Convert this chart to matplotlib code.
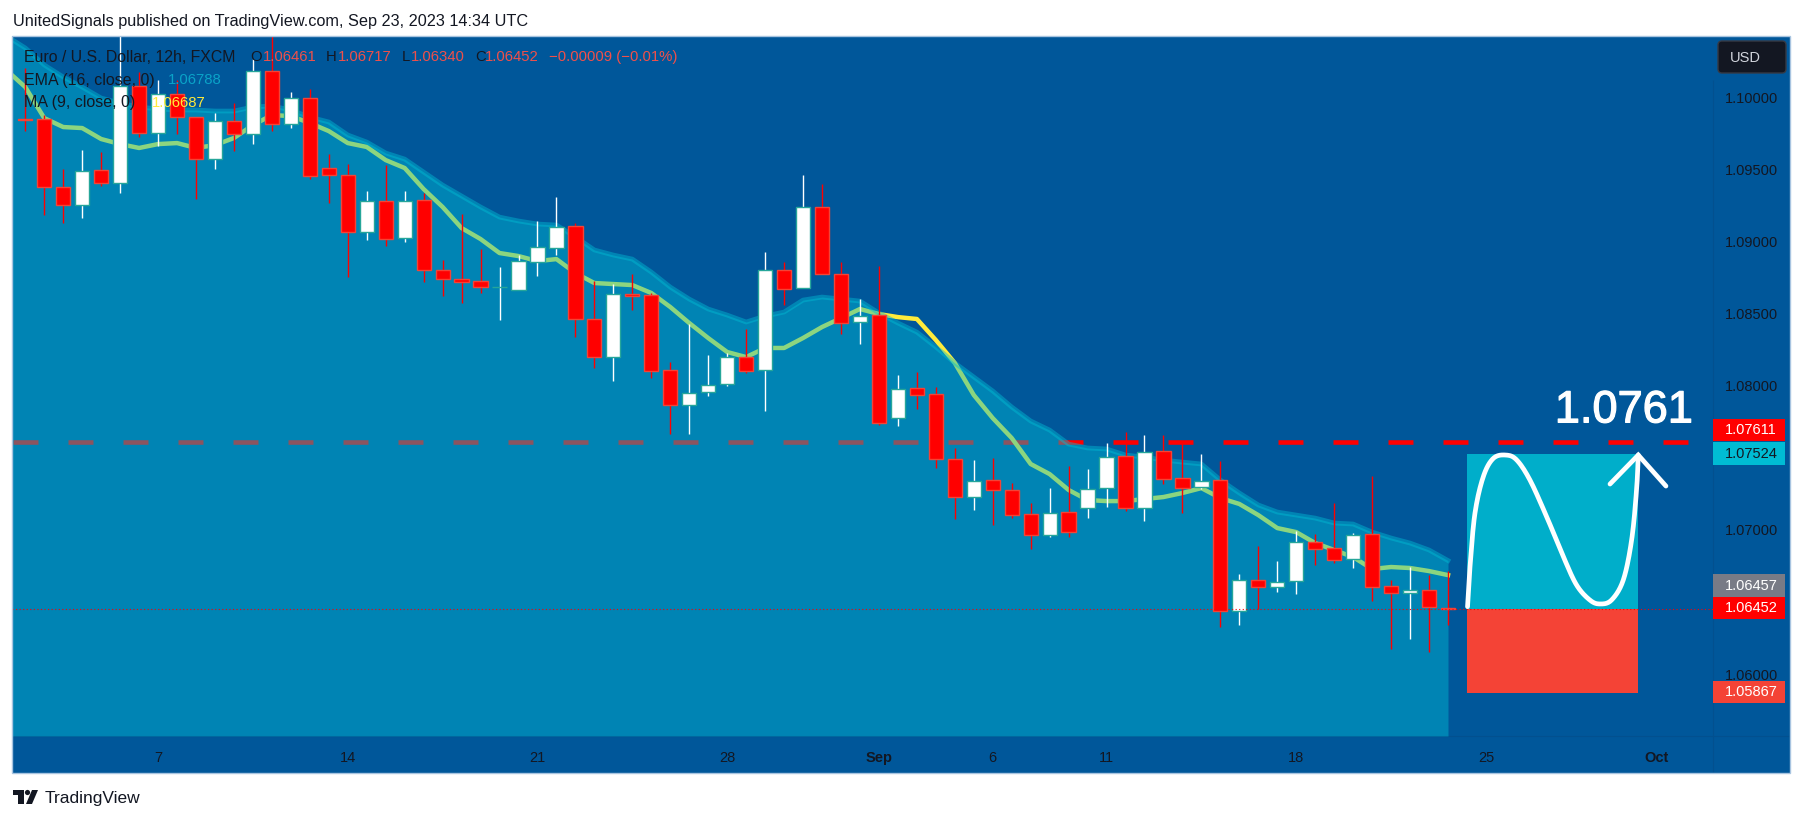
import numpy as np
import matplotlib
matplotlib.use("Agg")
import matplotlib.pyplot as plt
import matplotlib.patheffects as pe
from matplotlib.patches import Rectangle, FancyBboxPatch, Polygon, Circle

plt.rcParams["font.family"] = ["Liberation Sans", "DejaVu Sans"]

# EUR/USD 12h candles
opens = [1.09848, 1.09845, 1.09378, 1.09249, 1.09492, 1.09406, 1.10078, 1.09748, 1.10023, 1.09859,
         1.09568, 1.09836, 1.09742, 1.10182, 1.09811, 1.09995, 1.09510, 1.09462, 1.09062, 1.09277,
         1.09021, 1.09284, 1.08799, 1.08737, 1.08723, 1.08682, 1.08660, 1.08859, 1.08956, 1.09104,
         1.08459, 1.08196, 1.08635, 1.08626, 1.08106, 1.07868, 1.07954, 1.08009, 1.08196, 1.08106,
         1.08799, 1.08674, 1.09236, 1.08775, 1.08439, 1.08487, 1.07773, 1.07981, 1.07940, 1.07489,
         1.07226, 1.07344, 1.07274, 1.07108, 1.06963, 1.07122, 1.07150, 1.07288, 1.07510, 1.07150,
         1.07545, 1.07358, 1.07295, 1.07344, 1.06436, 1.06655, 1.06602, 1.06644, 1.06918, 1.06872,
         1.06796, 1.06970, 1.06609, 1.06561, 1.06586, 1.06461]
highs = [1.10201, 1.09875, 1.09501, 1.09633, 1.09619, 1.10499, 1.10175, 1.10118, 1.10118, 1.09865,
         1.09887, 1.09958, 1.10263, 1.10464, 1.10037, 1.10053, 1.09605, 1.09536, 1.09349, 1.09529,
         1.09349, 1.09335, 1.08870, 1.09189, 1.08945, 1.08824, 1.08905, 1.09141, 1.09307, 1.09125,
         1.08727, 1.08704, 1.08773, 1.08642, 1.08164, 1.08427, 1.08212, 1.08224, 1.08390, 1.08926,
         1.08859, 1.09459, 1.09399, 1.08857, 1.08600, 1.08829, 1.08073, 1.08094, 1.07988, 1.07571,
         1.07484, 1.07498, 1.07323, 1.07184, 1.07290, 1.07443, 1.07422, 1.07602, 1.07681, 1.07658,
         1.07658, 1.07600, 1.07526, 1.07475, 1.06694, 1.06888, 1.06784, 1.06990, 1.06972, 1.07184,
         1.06979, 1.07374, 1.06653, 1.06741, 1.06685, 1.06717]
lows = [1.09764, 1.09182, 1.09129, 1.09164, 1.09385, 1.09337, 1.09721, 1.09660, 1.09746, 1.09293,
        1.09503, 1.09628, 1.09674, 1.09766, 1.09787, 1.09432, 1.09267, 1.08755, 1.09009, 1.08970,
        1.08997, 1.08720, 1.08623, 1.08575, 1.08640, 1.08455, 1.08660, 1.08760, 1.08905, 1.08337,
        1.08122, 1.08034, 1.08524, 1.08053, 1.07665, 1.07665, 1.07928, 1.07997, 1.08089, 1.07826,
        1.08556, 1.08674, 1.08775, 1.08360, 1.08288, 1.07727, 1.07720, 1.07836, 1.07431, 1.07073,
        1.07140, 1.07036, 1.07082, 1.06868, 1.06953, 1.06951, 1.07082, 1.07159, 1.07131, 1.07062,
        1.07318, 1.07117, 1.07283, 1.06327, 1.06341, 1.06454, 1.06570, 1.06556, 1.06755, 1.06768,
        1.06736, 1.06507, 1.06175, 1.06244, 1.06154, 1.06340]
closes = [1.09841, 1.09378, 1.09249, 1.09489, 1.09406, 1.10078, 1.09748, 1.10023, 1.09859, 1.09568,
          1.09836, 1.09742, 1.10182, 1.09811, 1.09995, 1.09450, 1.09462, 1.09062, 1.09277, 1.09018,
          1.09281, 1.08799, 1.08737, 1.08720, 1.08681, 1.08685, 1.08861, 1.08958, 1.09101, 1.08459,
          1.08196, 1.08633, 1.08623, 1.08103, 1.07868, 1.07951, 1.08006, 1.08196, 1.08103, 1.08799,
          1.08672, 1.09236, 1.08775, 1.08436, 1.08484, 1.07739, 1.07979, 1.07937, 1.07489, 1.07226,
          1.07341, 1.07274, 1.07105, 1.06963, 1.07119, 1.06988, 1.07285, 1.07507, 1.07150, 1.07542,
          1.07355, 1.07292, 1.07341, 1.06436, 1.06655, 1.06602, 1.06641, 1.06918, 1.06870, 1.06794,
          1.06967, 1.06606, 1.06561, 1.06586, 1.06468, 1.06452]

# indicators start one bar before the first candle, it gets clipped by the frame
ema16 = [1.10423, 1.10340, 1.10222, 1.10139, 1.10069, 1.09993, 1.09958, 1.09931, 1.09917, 1.09910,
         1.09910, 1.09903, 1.09903, 1.09931, 1.09938, 1.09910, 1.09861, 1.09827, 1.09737, 1.09688,
         1.09612, 1.09570, 1.09480, 1.09390, 1.09314, 1.09238, 1.09168, 1.09141, 1.09120, 1.09113,
         1.09030, 1.08940, 1.08905, 1.08877, 1.08787, 1.08683, 1.08600, 1.08531, 1.08489, 1.08441,
         1.08482, 1.08510, 1.08593, 1.08614, 1.08600, 1.08586, 1.08503, 1.08434, 1.08371, 1.08268,
         1.08157, 1.08060, 1.07963, 1.07852, 1.07755, 1.07692, 1.07595, 1.07568, 1.07561, 1.07519,
         1.07505, 1.07484, 1.07470, 1.07457, 1.07346, 1.07256, 1.07173, 1.07124, 1.07103, 1.07082,
         1.07048, 1.07041, 1.06985, 1.06944, 1.06909, 1.06861, 1.06788]
ma9 = [1.10187, 1.10069, 1.09854, 1.09792, 1.09785, 1.09709, 1.09674, 1.09647, 1.09674, 1.09681,
       1.09647, 1.09667, 1.09716, 1.09806, 1.09875, 1.09868, 1.09820, 1.09764, 1.09681, 1.09654,
       1.09563, 1.09508, 1.09362, 1.09238, 1.09092, 1.09016, 1.08919, 1.08898, 1.08863, 1.08877,
       1.08780, 1.08711, 1.08704, 1.08697, 1.08642, 1.08545, 1.08434, 1.08330, 1.08233, 1.08198,
       1.08261, 1.08261, 1.08330, 1.08406, 1.08468, 1.08531, 1.08496, 1.08475, 1.08462, 1.08316,
       1.08157, 1.07935, 1.07775, 1.07637, 1.07457, 1.07387, 1.07277, 1.07207, 1.07200, 1.07200,
       1.07214, 1.07228, 1.07256, 1.07290, 1.07221, 1.07180, 1.07103, 1.07013, 1.06985, 1.06909,
       1.06861, 1.06812, 1.06729, 1.06743, 1.06736, 1.06715, 1.06687]

# hand drawn arrow on top of the long position box
arrow_bar = [76.03, 76.16, 76.42, 76.86, 77.39, 78.05, 78.62, 79.32, 80.20, 81.08, 81.78, 82.48,
             83.01, 83.62, 84.24, 84.68, 84.94, 85.03]
arrow_price = [1.06468, 1.06745, 1.07115, 1.07369, 1.07496, 1.07519, 1.07485, 1.07346, 1.07092,
               1.06815, 1.06618, 1.06514, 1.06487, 1.06514, 1.06653, 1.06930, 1.07277, 1.07519]
arrow_head_bar = [83.54, 85.03, 86.49]
arrow_head_price = [1.07318, 1.07519, 1.07304]

resistance = 1.07611
last_close = 1.06452
entry = 1.06452
target = 1.07524
stop = 1.05867
box_bars = (76, 85)

# 1.065 and 1.075 sit under the price tags in the original, so they are left out
price_ticks = [1.06, 1.07, 1.08, 1.085, 1.09, 1.095, 1.10]
time_ticks = [7, 17, 27, 37, 45, 51, 57, 67, 77, 86]
time_labels = ["7", "14", "21", "28", "Sep", "6", "11", "18", "25", "Oct"]
bold_labels = ("Sep", "Oct")

BG = "#00579a"
CYAN = "#00bcd4"
RED = "#ff0000"
TEAL = "#26a69a"
DARK = "#131722"
EDGE_RED = "#f44336"
RULE = "#02508f"

W, H = 1804, 821
fig = plt.figure(figsize=(W / 100, H / 100), dpi=100, facecolor="white")


def px_axes(z):
    a = fig.add_axes([0, 0, 1, 1], zorder=z)
    a.set_xlim(0, W)
    a.set_ylim(H, 0)
    a.axis("off")
    return a


def smooth(xs, ys, n=14):
    # catmull-rom through the drawn points, only for the arrow
    pts = np.column_stack([xs, ys])
    pts = np.vstack([pts[0], pts, pts[-1]])
    out = []
    for k in range(1, len(pts) - 2):
        t = np.linspace(0, 1, n, endpoint=False)[:, None]
        p0, p1, p2, p3 = pts[k - 1], pts[k], pts[k + 1], pts[k + 2]
        out.append(0.5 * (2 * p1 + (p2 - p0) * t + (2 * p0 - 5 * p1 + 4 * p2 - p3) * t ** 2
                          + (3 * p1 - p0 - 3 * p2 + p3) * t ** 3))
    out.append(pts[-1][None, :])
    return np.vstack(out).T


back = px_axes(0)
back.add_patch(Rectangle((12, 36), 1778, 737, fc=BG, ec="none"))
back.plot([1713, 1713], [80, 772], color=RULE, lw=0.8, solid_capstyle="butt")
back.plot([13, 1789], [736, 736], color=RULE, lw=0.8, solid_capstyle="butt")
frame = px_axes(3)
frame.add_patch(Rectangle((12, 36), 1778, 737, fc="none", ec="#a8c4e0", lw=1.0))

ax = fig.add_axes([12 / W, 1 - 736 / H, 1701 / W, 700 / H], zorder=1)
ax.patch.set_visible(False)
ax.set_xlim(-0.701, 88.97)
ax.set_ylim(1.05572, 1.10423)
for s in ax.spines.values():
    s.set_visible(False)

bars = np.arange(len(opens))
ind_bars = np.arange(len(ema16)) - 1
o, hi, lo, c = map(np.array, (opens, highs, lows, closes))
up = c >= o

# the area sits over the yellow MA and the dashes, which is what tints them
ax.plot([-0.63, 87.65], [resistance, resistance], color=RED, lw=3.3, zorder=1,
        linestyle=(0, (5.45, 6.55)), dash_capstyle="butt")
ax.plot(ind_bars, ma9, color="#ffeb3b", lw=3.2, zorder=2, solid_joinstyle="round")
ax.fill_between(ind_bars, ema16, 1.05572, color=CYAN, alpha=0.45, lw=0, zorder=3)
ax.plot(ind_bars, ema16, color=CYAN, alpha=0.45, lw=3.4, zorder=4)

ax.vlines(bars[up], lo[up], hi[up], color="white", lw=1.0, zorder=5)
ax.vlines(bars[~up], lo[~up], hi[~up], color=RED, lw=1.0, zorder=5)
ax.bar(bars[up], (c - o)[up], bottom=o[up], width=0.75, color="white", edgecolor=TEAL, lw=1.0, zorder=6)
ax.bar(bars[~up], (c - o)[~up], bottom=o[~up], width=0.75, color=RED, edgecolor=EDGE_RED, lw=1.0, zorder=6)

ax.fill_between(box_bars, entry, target, color="#00aeca", lw=0, zorder=5)
ax.fill_between(box_bars, stop, entry, color=EDGE_RED, lw=0, zorder=5)
ax.plot([-0.701, 88.97], [last_close, last_close], color=RED, lw=0.8, ls=(0, (1, 2.2)), zorder=7)

sx, sy = smooth(arrow_bar, arrow_price)
ax.plot(sx, sy, color="white", lw=3.4, solid_capstyle="round", zorder=8)
ax.plot(arrow_head_bar, arrow_head_price, color="white", lw=3.4, solid_capstyle="round",
        solid_joinstyle="miter", zorder=8)
ax.text(87.9, 1.07825, "1.0761", color="white", fontsize=32.5, ha="right", va="center", zorder=9,
        path_effects=[pe.withStroke(linewidth=0.9, foreground="white")])

ax.yaxis.tick_right()
ax.set_yticks(price_ticks)
ax.set_yticklabels([f"{p:.5f}" for p in price_ticks])
ax.tick_params(axis="y", length=0, pad=8.6, labelsize=10.5, labelcolor=DARK)
ax.set_xticks(time_ticks)
ax.set_xticklabels(time_labels)
ax.tick_params(axis="x", length=0, pad=10.5, labelsize=10.5, labelcolor=DARK)
for t in ax.get_xticklabels():
    if t.get_text() in bold_labels:
        t.set_fontweight("bold")

top = px_axes(2)
top.text(13, 21.5, "UnitedSignals published on TradingView.com, Sep 23, 2023 14:34 UTC",
         color=DARK, fontsize=11.7, va="center")

# legend block
VAL = "#f0504a"
top.text(24, 57, "Euro / U.S. Dollar, 12h, FXCM", color=DARK, fontsize=11.4, va="center")
for x, s, col in [(250, "O", DARK), (263, "1.06461", VAL), (326, "H", DARK), (338, "1.06717", VAL),
                  (402, "L", DARK), (411, "1.06340", VAL), (475, "C", DARK), (485, "1.06452", VAL),
                  (549, "\u22120.00009 (\u22120.01%)", VAL)]:
    top.text(x, 57, s, color=col, fontsize=10.7, va="center")
top.text(24, 80, "EMA (16, close, 0)", color=DARK, fontsize=11.5, va="center")
top.text(168, 80, "1.06788", color="#0aa3c8", fontsize=10.7, va="center")
top.text(24, 103, "MA (9, close, 0)", color=DARK, fontsize=11.5, va="center")
top.text(152, 103, "1.06687", color="#ffeb3b", fontsize=10.7, va="center")

# price scale tags, stacked so they do not collide
for y0, y1, col, txtcol, s in [(419.5, 441.5, RED, "white", "1.07611"),
                               (442, 465, CYAN, DARK, "1.07524"),
                               (574, 597, "#787b86", "white", "1.06457"),
                               (597, 619.5, RED, "white", "1.06452"),
                               (681, 703.5, EDGE_RED, "white", "1.05867")]:
    top.add_patch(Rectangle((1713, y0), 72, y1 - y0, fc=col, ec="none"))
    top.text(1725, (y0 + y1) / 2, s, color=txtcol, fontsize=10.5, va="center")

top.add_patch(FancyBboxPatch((1721, 44), 62, 26, boxstyle="round,pad=3,rounding_size=4",
                             fc=DARK, ec="#363a45", lw=1))
top.text(1730, 58, "USD", color="#d1d4dc", fontsize=10.5, va="center")

# TradingView footer
top.add_patch(Polygon([(13, 790), (24, 790), (24, 804), (18, 804), (18, 795), (13, 795)], fc=DARK))
top.add_patch(Circle((27.5, 792.5), 2.6, fc=DARK))
top.add_patch(Polygon([(32, 790), (38, 790), (32, 804), (26, 804)], fc=DARK))
top.text(45, 798, "TradingView", color=DARK, fontsize=12.5, va="center")

fig.savefig("out.png", dpi=100)
